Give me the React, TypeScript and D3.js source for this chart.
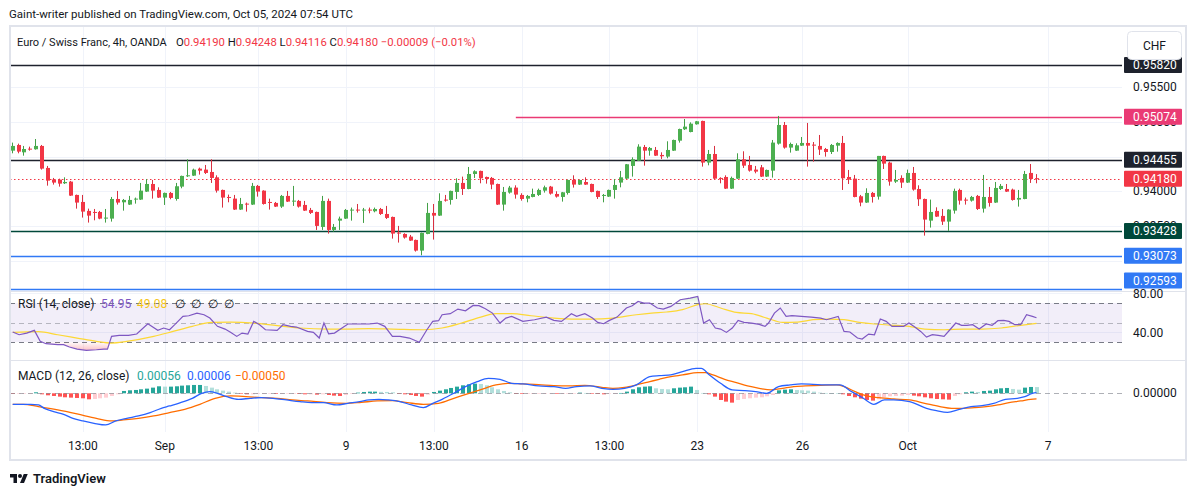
import React from "react";
import * as d3 from "d3";

const FONT = "Roboto, 'Liberation Sans', Arial, sans-serif";

// OHLC per 4h bar (EUR/CHF)
const candles: [number, number, number, number][] = [
[0.94586,0.94702,0.94548,0.94654],[0.94668,0.94687,0.94548,0.94572],[0.94562,0.94654,0.94514,0.94610],[0.94615,0.94644,0.94586,0.94601],
[0.94606,0.94754,0.94601,0.94654],[0.94654,0.94668,0.94313,0.94327],[0.94337,0.94366,0.94082,0.94154],[0.94169,0.94193,0.94097,0.94126],
[0.94169,0.94183,0.94068,0.94111],[0.94116,0.94202,0.94106,0.94135],[0.94140,0.94150,0.93934,0.93938],[0.93948,0.93953,0.93751,0.93838],
[0.93847,0.93948,0.93622,0.93708],[0.93718,0.93751,0.93550,0.93650],[0.93703,0.93746,0.93583,0.93689],[0.93703,0.93718,0.93598,0.93607],
[0.93607,0.93746,0.93550,0.93622],[0.93607,0.93919,0.93564,0.93890],[0.93890,0.94006,0.93809,0.93838],[0.93842,0.93890,0.93722,0.93876],
[0.93809,0.93934,0.93804,0.93876],[0.93886,0.93910,0.93823,0.93895],[0.93881,0.94121,0.93876,0.94010],[0.93996,0.94178,0.93991,0.94106],
[0.94106,0.94164,0.93895,0.94010],[0.94020,0.94058,0.93905,0.93910],[0.93910,0.93982,0.93804,0.93977],[0.93977,0.93991,0.93886,0.93905],
[0.93890,0.94121,0.93866,0.94073],[0.94068,0.94226,0.94044,0.94222],[0.94217,0.94462,0.94207,0.94231],[0.94226,0.94327,0.94222,0.94313],
[0.94327,0.94342,0.94241,0.94298],[0.94313,0.94380,0.94250,0.94265],[0.94279,0.94462,0.94121,0.94193],[0.94202,0.94231,0.93982,0.94010],
[0.94020,0.94025,0.93766,0.93910],[0.93919,0.93953,0.93842,0.93905],[0.93895,0.93948,0.93732,0.93737],[0.93737,0.93905,0.93732,0.93818],
[0.93823,0.93838,0.93708,0.93809],[0.93809,0.94121,0.93804,0.94078],[0.94078,0.94092,0.93924,0.93996],[0.94010,0.94015,0.93809,0.93818],
[0.93847,0.93895,0.93737,0.93833],[0.93833,0.93847,0.93775,0.93780],[0.93780,0.93948,0.93761,0.93934],[0.93934,0.94006,0.93847,0.93852],
[0.93857,0.94078,0.93790,0.93866],[0.93862,0.93876,0.93766,0.93780],[0.93804,0.93862,0.93718,0.93722],[0.93732,0.93761,0.93674,0.93689],
[0.93703,0.93708,0.93444,0.93502],[0.93487,0.93934,0.93444,0.93862],[0.93862,0.93895,0.93391,0.93444],[0.93444,0.93530,0.93420,0.93487],
[0.93578,0.93636,0.93444,0.93607],[0.93607,0.93746,0.93602,0.93732],[0.93727,0.93766,0.93578,0.93737],[0.93737,0.93818,0.93694,0.93727],
[0.93727,0.93761,0.93545,0.93737],[0.93737,0.93766,0.93684,0.93727],[0.93713,0.93766,0.93698,0.93746],[0.93746,0.93761,0.93660,0.93674],
[0.93674,0.93790,0.93602,0.93617],[0.93631,0.93636,0.93319,0.93391],[0.93406,0.93502,0.93262,0.93391],[0.93386,0.93396,0.93319,0.93334],
[0.93348,0.93372,0.93286,0.93290],[0.93300,0.93305,0.93132,0.93146],[0.93146,0.93406,0.93079,0.93401],[0.93386,0.93833,0.93382,0.93689],
[0.93689,0.93818,0.93305,0.93650],[0.93650,0.93972,0.93646,0.93862],[0.93881,0.93948,0.93852,0.93866],[0.93876,0.94010,0.93809,0.94006],
[0.93991,0.94188,0.93890,0.94121],[0.94121,0.94212,0.93948,0.94034],[0.94034,0.94351,0.94030,0.94250],[0.94250,0.94303,0.94193,0.94289],
[0.94294,0.94298,0.94116,0.94188],[0.94207,0.94212,0.94111,0.94178],[0.94193,0.94207,0.94030,0.94097],[0.94106,0.94111,0.93804,0.93809],
[0.93809,0.94063,0.93722,0.93991],[0.93982,0.94078,0.93967,0.94054],[0.94054,0.94087,0.93895,0.93953],[0.93948,0.93972,0.93866,0.93890],
[0.93895,0.93948,0.93842,0.93934],[0.93919,0.94039,0.93914,0.93962],[0.93948,0.94039,0.93934,0.94020],[0.94010,0.94082,0.93982,0.94058],
[0.94068,0.94078,0.93953,0.93967],[0.93962,0.94001,0.93910,0.93924],[0.93919,0.93991,0.93852,0.93986],[0.93977,0.94169,0.93953,0.94164],
[0.94164,0.94231,0.94054,0.94097],[0.94097,0.94169,0.94092,0.94164],[0.94135,0.94202,0.94092,0.94097],[0.94106,0.94111,0.93986,0.93991],
[0.94006,0.94010,0.93890,0.93919],[0.93938,0.93962,0.93842,0.93948],[0.93924,0.94025,0.93919,0.94020],[0.94020,0.94178,0.93895,0.94092],
[0.94126,0.94294,0.94058,0.94202],[0.94183,0.94394,0.94178,0.94390],[0.94366,0.94490,0.94212,0.94462],[0.94442,0.94678,0.94438,0.94644],
[0.94639,0.94668,0.94370,0.94586],[0.94586,0.94639,0.94514,0.94625],[0.94596,0.94639,0.94510,0.94514],[0.94524,0.94562,0.94466,0.94505],
[0.94500,0.94721,0.94476,0.94596],[0.94586,0.94745,0.94582,0.94740],[0.94730,0.94903,0.94702,0.94898],[0.94894,0.95042,0.94884,0.94932],
[0.94855,0.94994,0.94850,0.94975],[0.94966,0.95014,0.94961,0.95009],[0.95014,0.95018,0.94356,0.94414],[0.94414,0.94596,0.94375,0.94538],
[0.94538,0.94654,0.94178,0.94183],[0.94193,0.94202,0.94116,0.94183],[0.94207,0.94231,0.94034,0.94039],[0.94039,0.94212,0.94034,0.94193],
[0.94183,0.94548,0.94178,0.94462],[0.94462,0.94577,0.94337,0.94370],[0.94380,0.94510,0.94284,0.94298],[0.94313,0.94366,0.94260,0.94284],
[0.94346,0.94380,0.94207,0.94212],[0.94212,0.94313,0.94207,0.94308],[0.94298,0.94740,0.94198,0.94702],[0.94687,0.95086,0.94673,0.94956],
[0.94956,0.94999,0.94615,0.94630],[0.94630,0.94702,0.94558,0.94682],[0.94586,0.94692,0.94582,0.94663],[0.94658,0.94783,0.94654,0.94697],
[0.94697,0.94985,0.94356,0.94658],[0.94673,0.94711,0.94428,0.94658],[0.94654,0.94812,0.94524,0.94601],[0.94610,0.94625,0.94500,0.94567],
[0.94567,0.94682,0.94538,0.94668],[0.94658,0.94706,0.94572,0.94697],[0.94697,0.94798,0.94020,0.94188],[0.94207,0.94308,0.94106,0.94169],
[0.94183,0.94236,0.93914,0.93919],[0.93929,0.93948,0.93785,0.93838],[0.93838,0.94044,0.93833,0.93977],[0.93977,0.93991,0.93838,0.93919],
[0.93924,0.94510,0.93881,0.94510],[0.94510,0.94514,0.94322,0.94399],[0.94414,0.94428,0.94082,0.94140],[0.94140,0.94308,0.94121,0.94164],
[0.94193,0.94231,0.94049,0.94126],[0.94126,0.94313,0.94121,0.94265],[0.94265,0.94351,0.94010,0.94025],[0.94034,0.94087,0.93790,0.93886],
[0.93890,0.93895,0.93362,0.93593],[0.93578,0.93881,0.93478,0.93703],[0.93718,0.93770,0.93631,0.93636],[0.93646,0.93746,0.93516,0.93564],
[0.93564,0.93742,0.93430,0.93737],[0.93722,0.94039,0.93679,0.94006],[0.94020,0.94039,0.93809,0.93866],[0.93881,0.93910,0.93809,0.93866],
[0.93866,0.93934,0.93852,0.93919],[0.93934,0.93948,0.93732,0.93746],[0.93751,0.94236,0.93694,0.93919],[0.93919,0.94063,0.93780,0.93833],
[0.93838,0.94135,0.93833,0.94049],[0.94034,0.94106,0.94020,0.94078],[0.94034,0.94106,0.93991,0.93996],[0.94025,0.94039,0.93866,0.93876],
[0.93881,0.94020,0.93780,0.93905],[0.93890,0.94294,0.93886,0.94250],[0.94265,0.94394,0.94121,0.94178],[0.94190,0.94248,0.94116,0.94180],
];

// time axis: bar position and label
const tickIdx = [12, 26, 42, 57, 72, 87, 102, 117, 135, 153, 177];
const tickLabels = ["13:00", "Sep", "13:00", "9", "13:00", "16", "13:00", "23", "26", "Oct", "7"];

// price scale ticks (labels shown where not covered by tags) and horizontal levels
const priceTicks = [0.955, 0.95, 0.945, 0.94, 0.935, 0.93];
const priceTickLabels = [0.955, 0.95, 0.94, 0.935];
const levelPrices = [0.9582, 0.95074, 0.94455, 0.93428, 0.93073, 0.92593];
const levelStartIdx: (number | null)[] = [null, 86, null, null, null, null];
const lastPrice = 0.9418;

// legend values
const ohlcLetters = ["O", "H", "L", "C"];
const ohlcValues = ["0.94190", "0.94248", "0.94116", "0.94180"];
const changeText = "−0.00009 (−0.01%)";

// RSI (14) and its MA: [bar, value]
const rsiPts: [number, number][] = [
[0,40.3],[1.1,37.5],[2.4,39.2],[3.7,42.0],[4.7,30.7],[5.7,28.3],[7.7,27.3],[8.7,27.3],[9.7,24.9],[11.0,22.8],[12.6,21.5],[14.3,22.1],[15.6,22.8],[16.2,22.8],[16.9,35.8],[18.2,36.8],[19.8,36.8],[21.2,38.2],[23.1,48.8],[24.8,42.0],[25.8,44.4],[26.8,42.6],[27.7,47.8],[29.1,56.3],[30.1,57.0],[31.5,59.7],[32.7,58.0],[33.7,54.6],[35.0,46.1],[36.3,43.3],[37.3,39.9],[38.3,35.8],[39.2,39.2],[40.2,38.2],[41.2,51.2],[42.2,47.8],[43.2,42.6],[45.2,42.0],[46.2,47.8],[47.5,46.1],[48.5,45.4],[50.4,40.9],[51.4,39.9],[52.4,34.1],[53.2,49.5],[54.0,38.5],[55.0,39.2],[57.3,48.5],[59.0,48.5],[60.9,48.5],[62.3,49.5],[63.6,46.1],[64.9,35.8],[66.2,35.8],[67.8,34.1],[69.5,29.7],[70.8,42.6],[71.8,51.2],[72.8,51.9],[73.4,58.0],[74.8,59.1],[76.1,63.8],[77.4,62.1],[78.7,67.6],[79.7,67.3],[80.8,64.2],[82.0,59.7],[83.3,49.5],[84.3,54.6],[85.3,56.3],[87.2,51.2],[89.2,52.9],[91.2,55.6],[92.5,52.2],[93.8,51.2],[95.5,59.1],[96.4,56.3],[97.8,59.1],[99.1,54.6],[100.0,50.2],[101.0,48.8],[102.0,52.2],[103.3,55.6],[104.9,64.9],[105.9,67.3],[106.9,71.7],[107.9,70],[108.9,70],[110.2,64.9],[111.2,63.8],[112.5,66.6],[114.1,73.4],[115.8,75.1],[117.1,76.8],[118.1,49.5],[119.1,52.9],[120.1,44.4],[121.0,43.3],[122.0,39.9],[123.0,44.4],[124.0,52.2],[125.0,50.2],[126.3,49.5],[127.6,48.1],[128.6,46.1],[129.2,49.5],[130.2,59.7],[131.2,64.9],[132.2,56.3],[133.2,57.0],[134.8,56.3],[136.5,55.6],[138.1,54.6],[139.1,52.9],[141.1,56.3],[142.1,40.9],[143.1,40.3],[144.4,34.1],[145.2,33.1],[146.3,38.2],[147.3,37.5],[148.3,53.6],[149.3,51.2],[150.3,46.1],[151.3,46.1],[152.3,46.1],[153.2,49.5],[154.2,45.4],[155.2,40.9],[156.2,35.1],[157.2,37.5],[158.2,36.8],[159.2,35.8],[160.2,42.6],[161.2,49.5],[162.2,47.1],[163.1,47.1],[164.1,47.8],[165.2,43.3],[166.4,48.5],[167.4,47.1],[168.4,51.9],[169.4,52.2],[170.3,51.2],[171.3,47.8],[172.3,47.8],[173.3,58.0],[174.3,56.3],[175,54.95],
];
const rsiMaPts: [number, number][] = [
[0,39.9],[4.4,40.6],[7.7,37.5],[11.0,34.1],[14.3,30.7],[16.9,29.0],[19.5,30.7],[24.1,35.8],[27.4,40.9],[30.7,46.1],[34.0,50.2],[37.3,50.5],[41.2,49.5],[45.2,46.8],[49.1,44.4],[53.7,43.3],[57.0,43.3],[60.9,43.7],[64.9,43.3],[70.2,42.6],[73.4,44.4],[76.7,49.5],[80.0,55.6],[82.6,59.1],[85.3,59.1],[88.6,57.0],[92.5,54.6],[96.4,53.6],[98.7,53.6],[102.6,54.6],[106.6,58.0],[109.2,59.7],[111.8,60.8],[114.5,63.2],[117.1,68.3],[118.4,69.3],[121.0,64.9],[123.7,60.4],[126.3,59.1],[128.9,54.6],[131.6,50.2],[134.2,50.5],[136.8,52.9],[139.5,53.6],[142.1,52.9],[144.7,50.2],[147.3,48.5],[150.0,47.4],[153.2,46.1],[155.9,43.3],[159.2,42.6],[162.5,43.3],[165.7,43.3],[169.0,44.4],[172.3,47.1],[175,49.08],
];

// MACD (12, 26): [bar, value]
const macdPts: [number, number][] = [
[0,-0.00099],[1.4,-0.00099],[3.1,-0.00099],[4.4,-0.00105],[5.4,-0.00135],[7.0,-0.00165],[8.7,-0.00189],[10.3,-0.00225],[12.0,-0.00249],[13.9,-0.0027],[15.9,-0.00285],[17.6,-0.00249],[19.5,-0.00225],[21.5,-0.00204],[23.5,-0.00174],[25.4,-0.00135],[26.8,-0.00114],[28.7,-0.00084],[30.7,-0.00045],[32.3,0],[33.7,0.00015],[35.0,0],[36.6,-0.0003],[38.6,-0.00054],[40.6,-0.00045],[42.5,-0.00039],[44.5,-0.00045],[46.8,-0.0006],[49.1,-0.00075],[51.1,-0.00084],[53.1,-0.00084],[55.4,-0.00105],[57.3,-0.0009],[59.3,-0.00075],[60.9,-0.0006],[62.6,-0.00054],[64.2,-0.0006],[66.2,-0.00075],[68.2,-0.00105],[70.2,-0.00129],[71.8,-0.0009],[73.4,-0.00054],[75.4,0],[77.4,0.0006],[79.4,0.00105],[81.3,0.00135],[83.3,0.00126],[85.3,0.0009],[87.2,0.00084],[89.9,0.00066],[92.5,0.0006],[94.5,0.00045],[96.4,0.0006],[98.7,0.00066],[100.7,0.00045],[102.6,0.00036],[104.6,0.00045],[106.6,0.00075],[108.9,0.0015],[110.5,0.00159],[112.5,0.00165],[114.5,0.00195],[116.8,0.00225],[117.7,0.00225],[119.1,0.00165],[121.0,0.0009],[123.0,0.0003],[125.0,0.00024],[127.0,0.00015],[128.9,0],[130.9,0.0006],[132.9,0.00075],[134.8,0.00084],[136.8,0.00081],[138.8,0.00075],[141.4,0.00075],[143.4,0.00015],[145.4,-0.00045],[147.2,-0.00099],[149.0,-0.0006],[150.6,-0.0006],[153.3,-0.00075],[156.2,-0.00135],[157.9,-0.00156],[159.8,-0.00171],[161.8,-0.00144],[163.8,-0.0012],[165.7,-0.00111],[167.7,-0.0009],[169.7,-0.00054],[171.7,-0.00045],[173.0,-0.0003],[174.3,0],[175,0.00006],
];
const signalPts: [number, number][] = [
[0,-0.00099],[1.8,-0.00099],[4.4,-0.0012],[7.7,-0.0015],[11.0,-0.00186],[14.3,-0.00225],[16.9,-0.00249],[18.9,-0.0024],[21.5,-0.00225],[24.1,-0.00204],[26.8,-0.00174],[29.4,-0.00144],[32.0,-0.00099],[34.6,-0.00045],[37.3,-0.00024],[39.9,-0.0003],[42.5,-0.00039],[45.2,-0.00045],[47.8,-0.0006],[50.4,-0.00069],[53.7,-0.00084],[57.0,-0.0009],[59.6,-0.00081],[62.3,-0.00069],[64.9,-0.00066],[67.5,-0.00084],[70.2,-0.00099],[72.8,-0.0009],[75.4,-0.00045],[78.0,0],[80.7,0.00045],[82.6,0.00075],[84.6,0.0009],[87.2,0.00084],[89.9,0.00078],[92.5,0.00069],[95.1,0.00066],[97.8,0.00072],[100.7,0.00054],[102.6,0.00045],[104.6,0.00054],[106.6,0.00075],[108.9,0.00105],[110.5,0.00126],[112.5,0.0015],[114.5,0.00165],[117.1,0.00186],[118.4,0.00186],[119.7,0.00165],[121.7,0.00126],[123.7,0.00096],[125.6,0.00066],[127.6,0.00045],[129.6,0.0003],[131.6,0.00045],[133.5,0.0006],[135.5,0.00066],[138.1,0.00072],[140.8,0.00075],[142.1,0.0006],[144.0,0.00015],[146.0,-0.00024],[148.0,-0.00039],[150.6,-0.00051],[153.3,-0.0006],[155.9,-0.0009],[158.5,-0.0012],[160.5,-0.00135],[162.5,-0.00135],[164.4,-0.00129],[166.4,-0.0012],[168.4,-0.00105],[170.3,-0.00084],[172.3,-0.00069],[174.0,-0.00054],[175,-0.0005],
];
const histogram: number[] = [
-0.00003,-0.00003,-0.00003,-0.00002,0.00009,-0.00009,-0.00018,-0.00024,-0.0003,-0.00036,
-0.00039,-0.00042,-0.00045,-0.00054,-0.00051,-0.00045,-0.00039,-0.00024,-0.00009,0.00021,
0.00027,0.0003,0.00036,0.00042,0.00051,0.00063,0.0006,0.0006,0.00063,0.00069,
0.00072,0.00075,0.00075,0.00066,0.00051,0.00036,0.00024,0.00015,0.00006,-0.00003,
-0.00009,-0.00009,-0.00006,-0.00003,-0.00003,-0.00006,-0.00006,-0.00003,-0.00003,-0.00006,
-0.00009,-0.00009,-0.00012,-0.00009,-0.00015,-0.00021,-0.00024,-0.00015,-0.00006,0.00006,
0.00012,0.00015,0.00015,0.00013,0.00012,0.00009,-0.00003,-0.00009,-0.00015,-0.00024,
-0.0003,-0.00012,0.00012,0.00024,0.00036,0.00048,0.0006,0.00072,0.00081,0.00087,
0.00084,0.00072,0.00054,0.00036,0.00021,0.00009,-0.00003,-0.00006,-0.00006,-0.00006,
-0.00006,-0.00003,-0.00003,-0.00006,-0.00006,-0.00003,-0.00003,0.00006,0.00003,-0.00003,
-0.00006,-0.00009,-0.00003,-0.00003,0.00003,0.00015,0.00036,0.00054,0.0006,0.00063,
0.00045,0.00039,0.00036,0.00045,0.00051,0.00054,0.0006,0.0003,0.00003,-0.00009,
-0.0003,-0.0006,-0.00075,-0.00084,-0.0006,-0.00051,-0.00045,-0.00039,-0.00036,-0.00027,
-0.00015,0.00027,0.00033,0.00036,0.0003,0.00027,0.00024,0.00015,0.00006,0.00003,
0.00002,0,-0.00009,-0.00024,-0.00036,-0.00048,-0.0006,-0.00066,-0.00054,-0.00036,
-0.00027,-0.00024,-0.00021,-0.00015,-0.00021,-0.00027,-0.00036,-0.00045,-0.00051,-0.00054,
-0.00057,-0.00024,-0.00009,0.00009,0.00015,0.00012,0.00021,0.00024,0.00036,0.00045,
0.00048,0.00039,0.00033,0.00051,0.00057,0.00056,
];

// ---- styling ----
const TXT = "#131722";
const GRID = "#f0f3fa";
const BORDER = "#e0e3eb";
const UP = "#4caf50";
const DOWN = "#f23645";
const UP_WICK = "#43a047";
const DOWN_WICK = "#d83040";
const levelColors = ["#1e222d", "#ea3a74", "#1e222d", "#00483a", "#3179f5", "#3179f5"];

const L = 10, R = 1122, AX = 1186;
const P_TOP = 26, P_BOT = 291, R_BOT = 360, M_BOT = 432, F_BOT = 460;

export default function App() {
  const x = d3.scaleLinear().domain([0, 175]).range([12.7, 1036.5]);
  const yP = d3.scaleLinear().domain([0.92593, 0.9582]).range([289, 65]);
  const yR = d3.scaleLinear().domain([40, 80]).range([332.3, 293.3]);
  const yM = d3.scaleLinear().domain([0, 0.0009]).range([393.3, 383.3]);
  const snap = (v: number) => Math.round(v) + 0.5;
  const tagY = (p: number) => Math.min(yP(p), P_BOT - 10.5);

  const rsiLine = d3.line<[number, number]>().x(d => x(d[0])).y(d => yR(d[1]));
  const maLine = d3.line<[number, number]>().x(d => x(d[0])).y(d => yR(d[1])).curve(d3.curveMonotoneX);
  const rsiAreaLow = d3.area<[number, number]>().x(d => x(d[0])).y0(yR(30)).y1(d => yR(d[1]));
  const rsiAreaHigh = d3.area<[number, number]>().x(d => x(d[0])).y0(yR(70)).y1(d => yR(d[1]));
  const mLine = d3.line<[number, number]>().x(d => x(d[0])).y(d => yM(d[1])).curve(d3.curveMonotoneX);

  const histColor = (v: number, i: number) => {
    const prev = i > 0 ? histogram[i - 1] : 0;
    if (v >= 0) return v >= prev ? "#26a69a" : "#b2dfdb";
    return v < prev ? "#ff5252" : "#ffcdd2";
  };

  const fs = 12;
  return (
    <svg width={1195} height={495} style={{ position: "fixed", left: 0, top: 0, background: "#fff" }}
      fontFamily={FONT}>
      <defs>
        <clipPath id="cp"><rect x={L} y={P_TOP} width={R - L} height={P_BOT - P_TOP} /></clipPath>
        <clipPath id="cr"><rect x={L} y={P_BOT} width={R - L} height={R_BOT - P_BOT} /></clipPath>
        <clipPath id="cm"><rect x={L} y={R_BOT} width={R - L} height={M_BOT - R_BOT} /></clipPath>
        <clipPath id="below30"><rect x={L} y={yR(30)} width={R - L} height={R_BOT - yR(30)} /></clipPath>
        <clipPath id="above70"><rect x={L} y={P_BOT} width={R - L} height={yR(70) - P_BOT} /></clipPath>
        <linearGradient id="gLow" gradientUnits="userSpaceOnUse" x1="0" x2="0" y1={yR(30)} y2={yR(20)}>
          <stop offset="0" stopColor="#f23645" stopOpacity="0.02" />
          <stop offset="1" stopColor="#f23645" stopOpacity="0.35" />
        </linearGradient>
        <linearGradient id="gHigh" gradientUnits="userSpaceOnUse" x1="0" x2="0" y1={yR(70)} y2={yR(80)}>
          <stop offset="0" stopColor="#4caf50" stopOpacity="0.02" />
          <stop offset="1" stopColor="#4caf50" stopOpacity="0.35" />
        </linearGradient>
      </defs>
      <rect x={0} y={0} width={1195} height={495} fill="#fff" />

      {/* header */}
      <text x={9} y={18} fontSize={11.5} fill={TXT}>
        Gaint-writer published on TradingView.com, Oct 05, 2024 07:54 UTC
      </text>

      {/* vertical grid */}
      {tickIdx.map((t, i) => (
        <line key={"vg" + i} x1={snap(x(t))} x2={snap(x(t))} y1={P_TOP} y2={M_BOT} stroke={GRID} />
      ))}
      {/* horizontal grid price */}
      {priceTicks.map((p, i) => (
        <line key={"hg" + i} x1={L} x2={R} y1={snap(yP(p))} y2={snap(yP(p))} stroke={GRID} />
      ))}
      {[80, 40].map((v, i) => (
        <line key={"rg" + i} x1={L} x2={R} y1={snap(yR(v))} y2={snap(yR(v))} stroke={GRID} />
      ))}

      {/* level lines */}
      <g clipPath="url(#cp)">
        {levelPrices.map((p, i) => (
          <line key={"lv" + i} x1={levelStartIdx[i] == null ? L : x(levelStartIdx[i] as number)} x2={R}
            y1={snap(yP(p))} y2={snap(yP(p))} stroke={levelColors[i]} strokeWidth={1.3} />
        ))}
        <line x1={L} x2={R} y1={snap(yP(lastPrice))} y2={snap(yP(lastPrice))} stroke={DOWN} strokeWidth={1.2} strokeDasharray="1.5,2.5" />
        {candles.map(([o, h, l, c], i) => {
          const cx = Math.round(x(i));
          const up = c >= o;
          const yt = yP(Math.max(o, c)), yb = yP(Math.min(o, c));
          return (
            <g key={"c" + i}>
              <rect x={cx - 1} y={yP(h)} width={1} height={yP(l) - yP(h)} fill={up ? UP_WICK : DOWN_WICK} />
              <rect x={cx - 2} y={yt} width={4} height={Math.max(1, yb - yt)} fill={up ? UP : DOWN} />
            </g>
          );
        })}
      </g>

      {/* RSI pane */}
      <rect x={L} y={yR(70)} width={R - L} height={yR(30) - yR(70)} fill="#7e57c2" fillOpacity={0.1} />
      <line x1={L} x2={R} y1={snap(yR(70))} y2={snap(yR(70))} stroke="#787b86" strokeDasharray="5,4" />
      <line x1={L} x2={R} y1={snap(yR(50))} y2={snap(yR(50))} stroke="#787b86" strokeOpacity={0.5} strokeDasharray="5,4" />
      <line x1={L} x2={R} y1={snap(yR(30))} y2={snap(yR(30))} stroke="#787b86" strokeDasharray="5,4" />
      <g clipPath="url(#cr)">
        <path d={rsiAreaLow(rsiPts) || ""} fill="url(#gLow)" clipPath="url(#below30)" />
        <path d={rsiAreaHigh(rsiPts) || ""} fill="url(#gHigh)" clipPath="url(#above70)" />
        <path d={maLine(rsiMaPts) || ""} fill="none" stroke="#fdd835" strokeWidth={1.2} />
        <path d={rsiLine(rsiPts) || ""} fill="none" stroke="#7e57c2" strokeWidth={1.2} />
      </g>

      {/* MACD pane */}
      <g clipPath="url(#cm)">
        {histogram.map((v, i) => {
          const y0 = yM(0), y1 = yM(v);
          return <rect key={"h" + i} x={Math.round(x(i)) - 2} y={Math.min(y0, y1)} width={4}
            height={Math.max(0.6, Math.abs(y1 - y0))} fill={histColor(v, i)} />;
        })}
        <line x1={L} x2={R} y1={snap(yM(0))} y2={snap(yM(0))} stroke="#787b86" strokeOpacity={0.6} strokeDasharray="5,4" />
        <path d={mLine(signalPts) || ""} fill="none" stroke="#ff6d00" strokeWidth={1.3} />
        <path d={mLine(macdPts) || ""} fill="none" stroke="#2962ff" strokeWidth={1.3} />
      </g>

      {/* pane separators and frame */}
      <line x1={L} x2={AX} y1={P_BOT + 0.5} y2={P_BOT + 0.5} stroke={BORDER} />
      <line x1={L} x2={AX} y1={R_BOT + 0.5} y2={R_BOT + 0.5} stroke={BORDER} />
      <rect x={L} y={P_TOP} width={AX - L} height={F_BOT - P_TOP} fill="none" stroke={BORDER} strokeWidth={2} />

      {/* price axis labels */}
      {priceTickLabels.map((p, i) => (
        <text key={"pl" + i} x={1133} y={yP(p) + 4} fontSize={fs} fill={TXT}>{p.toFixed(5)}</text>
      ))}
      {[80, 40].map((v, i) => (
        <text key={"rl" + i} x={1133} y={yR(v) + 4.5} fontSize={fs} fill={TXT}>{v.toFixed(2)}</text>
      ))}
      <text x={1133} y={yM(0) + 4} fontSize={fs} fill={TXT}>{(0).toFixed(5)}</text>

      {/* price tags */}
      {levelPrices.map((p, i) => (
        <g key={"tag" + i}>
          <rect x={1124} y={tagY(p) - 8} width={58} height={16} rx={1} fill={levelColors[i]} />
          <text x={1133} y={tagY(p) + 4} fontSize={fs} fill="#fff">{p.toFixed(5)}</text>
        </g>
      ))}
      <rect x={1124} y={yP(lastPrice) - 8} width={58} height={16} rx={1} fill={DOWN} />
      <text x={1133} y={yP(lastPrice) + 4} fontSize={fs} fill="#fff">{lastPrice.toFixed(5)}</text>

      {/* currency box */}
      <rect x={1127.5} y={31.5} width={54} height={28} rx={4} fill="#fff" stroke={BORDER} />
      <text x={1154.5} y={50} fontSize={fs} fill={TXT} textAnchor="middle">CHF</text>

      {/* time axis */}
      {tickIdx.map((t, i) => (
        <text key={"tl" + i} x={x(t)} y={450} fontSize={fs} fill={TXT} textAnchor="middle">{tickLabels[i]}</text>
      ))}

      {/* legends */}
      <text x={17} y={46} fontSize={11} fill={TXT}>Euro / Swiss Franc, 4h, OANDA</text>
      <text x={176} y={46} fontSize={11.3}>
        {ohlcLetters.map((k, i) => (
          <React.Fragment key={"ol" + i}>
            <tspan fill={TXT}>{k}</tspan><tspan fill={DOWN}>{ohlcValues[i] + " "}</tspan>
          </React.Fragment>
        ))}
        <tspan fill={DOWN}>{changeText}</tspan>
      </text>

      <text x={18} y={308} fontSize={fs} fill={TXT}>RSI (14, close)</text>
      <text x={101} y={308} fontSize={fs} fill="#7e57c2">54.95</text>
      <text x={137} y={308} fontSize={fs} fill="#f5c518">49.08</text>
      {[175, 191, 208, 224].map((px, i) => (
        <text key={"e" + i} x={px} y={308} fontSize={fs} fill={TXT}>∅</text>
      ))}

      <text x={18} y={380} fontSize={fs} fill={TXT}>MACD (12, 26, close)</text>
      <text x={137} y={380} fontSize={fs} fill="#26a69a">0.00056</text>
      <text x={187} y={380} fontSize={fs} fill="#2962ff">0.00006</text>
      <text x={235} y={380} fontSize={fs} fill="#ff6d00">−0.00050</text>

      {/* footer logo */}
      <g transform="translate(10,472) scale(0.5)" fill={TXT}>
        <path d="M14 22H7V11H0V4h14v18zM28 22h-8l7.5-18h8L28 22z" />
        <circle cx="20" cy="8" r="4" />
      </g>
      <text x={33} y={483} fontSize={13} fontWeight={600} fill={TXT}>TradingView</text>
    </svg>
  );
}
